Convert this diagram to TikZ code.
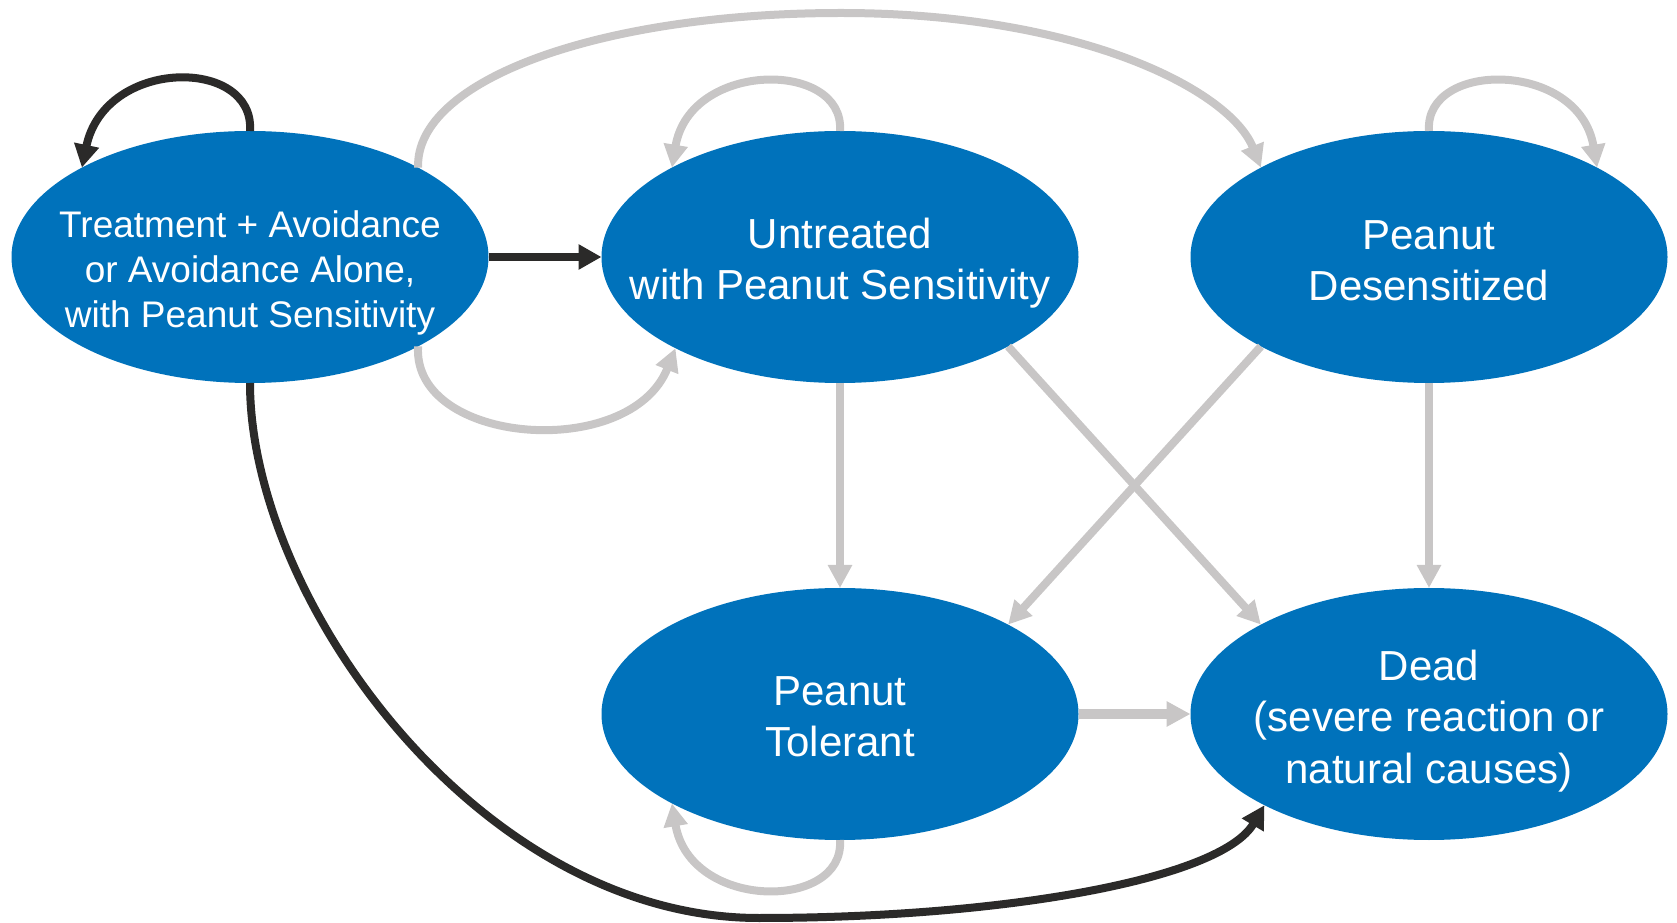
\documentclass[tikz,border=0pt]{standalone}
\usepackage{fontspec}
\setmainfont{Liberation Sans}
\usetikzlibrary{arrows.meta,shapes.geometric}
\definecolor{stateblue}{RGB}{0,114,187}
\definecolor{flowgray}{RGB}{200,198,198}
\definecolor{flowblack}{RGB}{43,42,41}
\begin{document}
\begin{tikzpicture}[x=0.5pt,y=0.5pt,
    state/.style={ellipse,fill=stateblue,minimum width=238.5pt,minimum height=126pt,inner sep=0pt,outer sep=0pt},
    statetext/.style={text=white,align=center,inner sep=0pt,font=\fontsize{21}{25.7}\selectfont},
    darkflow/.style={draw=flowblack,line width=4pt,-{Triangle[length=11.5pt,width=12pt]}},
    lightflow/.style={draw=flowgray,line width=4pt,-{Triangle[length=11.5pt,width=11.5pt]}}]
  \useasboundingbox (0,0) rectangle (1677,922);
  \node[state] (sens) at (250,665) {};
  \node[state] (untr) at (840,665) {};
  \node[state] (desens) at (1429,665) {};
  \node[state] (toler) at (840,208) {};
  \node[state] (dead) at (1429,208) {};
  \node[statetext,font=\fontsize{18.5}{22.5}\selectfont] (sensT) at (250,649) {Treatment + Avoidance\\or Avoidance Alone,\\with Peanut Sensitivity};
  \node[statetext] (untrT) at (840,659) {Untreated\\with Peanut Sensitivity};
  \node[statetext] (desensT) at (1429,661) {Peanut\\Desensitized};
  \node[statetext] (tolerT) at (840,205) {Peanut\\Tolerant};
  \node[statetext] (deadT) at (1429,201) {Dead\\(severe reaction or\\natural causes)};
  % self loops
  \draw[darkflow] (sens.north) .. controls (255,865) and (105,865) .. (sens.152);
  \draw[lightflow] (untr.north) .. controls (845,862) and (690,862) .. (untr.152);
  \draw[lightflow] (desens.north) .. controls (1424,862) and (1579,862) .. (desens.28);
  \draw[lightflow] (toler.south) .. controls (845,11) and (690,11) .. (toler.208);
  % transitions
  \draw[darkflow] (sens.east) -- (untr.west);
  \draw[lightflow] (sens.28) .. controls (415,842) and (600,909) .. (841,909) .. controls (1080,909) and (1230,832) .. (desens.152);
  \draw[lightflow] (sens.-28) .. controls (412,477) and (630,460) .. (untr.209);
  \draw[lightflow] (untr.south) -- (toler.north);
  \draw[lightflow] (desens.south) -- (dead.north);
  \draw[lightflow] (untr.-28) -- (dead.152);
  \draw[lightflow] (desens.208) -- (toler.28);
  \draw[lightflow,line width=4.6pt,-{Triangle[length=12pt,width=12pt]}] (toler.east) -- (dead.west);
  \draw[darkflow] (sens.south) .. controls (250,322) and (480,4) .. (759,4) .. controls (1000,4) and (1220,42) .. (dead.209);
\end{tikzpicture}
\end{document}
